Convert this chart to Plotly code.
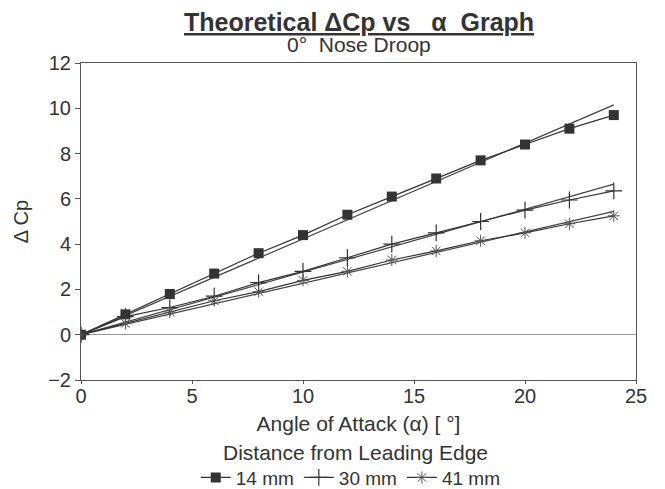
import plotly.graph_objects as go

alpha = [0, 2, 4, 6, 8, 10, 12, 14, 16, 18, 20, 22, 24]
cp_14mm = [0, 0.9, 1.8, 2.7, 3.6, 4.4, 5.3, 6.1, 6.9, 7.7, 8.4, 9.1, 9.7]
cp_30mm = [0, 0.8, 1.2, 1.7, 2.3, 2.8, 3.4, 4.0, 4.5, 5.0, 5.5, 5.95, 6.35]
cp_41mm = [0, 0.5, 1.0, 1.5, 1.9, 2.4, 2.8, 3.3, 3.7, 4.15, 4.5, 4.9, 5.25]

theory_x = [0, 24]
theory_14mm = [0, 10.15]
theory_30mm = [0, 6.65]
theory_41mm = [0, 5.45]

labels = ["14 mm", "30 mm", "41 mm"]
FONT = "Liberation Sans, Arial, sans-serif"
INK = "#333333"

fig = go.Figure()
for ty in [theory_14mm, theory_30mm, theory_41mm]:
    fig.add_trace(go.Scatter(x=theory_x, y=ty, mode="lines", showlegend=False,
                             line=dict(color="#444", width=1.2), hoverinfo="skip"))

sym = [dict(symbol="square", size=10, color="#333"),
       dict(symbol="cross-thin", size=12, color="#333", line=dict(width=1.2, color="#333")),
       dict(symbol="asterisk", size=10, color="#555", line=dict(width=1, color="#555"))]
for lab, yv, m in zip(labels, [cp_14mm, cp_30mm, cp_41mm], sym):
    fig.add_trace(go.Scatter(x=alpha, y=yv, mode="lines+markers", name=lab,
                             line=dict(color="#333", width=1.2), marker=m))

fig.update_layout(
    width=665, height=489,
    margin=dict(l=81, r=29, t=63, b=109, autoexpand=False),
    paper_bgcolor="white", plot_bgcolor="white",
    font=dict(family=FONT, color=INK, size=19),
    showlegend=True,
    legend=dict(orientation="h", x=0.486, xanchor="center", y=-0.248, yanchor="top",
                font=dict(size=19, color=INK), borderwidth=0,
                itemwidth=30, tracegroupgap=0),
    xaxis=dict(range=[0, 25], tickvals=[0, 5, 10, 15, 20, 25], showgrid=False,
               zeroline=False, showline=True, linecolor="#555", linewidth=1, mirror=True,
               ticks="outside", ticklen=3, tickcolor="#555", ticklabelstandoff=-5,
               tickfont=dict(size=20, color=INK),
               title=dict(text="Angle of Attack (α) [ °]", font=dict(size=21, color=INK), standoff=10)),
    yaxis=dict(range=[-2, 12], tickvals=[-2, 0, 2, 4, 6, 8, 10, 12], showgrid=False,
               zeroline=True, zerolinecolor="#999", zerolinewidth=1,
               showline=True, linecolor="#555", linewidth=1, mirror=True,
               ticks="outside", ticklen=5, tickcolor="#555",
               tickfont=dict(size=20, color=INK),
               title=dict(text="Δ Cp", font=dict(size=20, color=INK), standoff=14)),
)
fig.add_annotation(text="<b><u>Theoretical ΔCp vs   α  Graph</u></b>", xref="paper", yref="paper",
                   x=0.5, y=1.0 + 41 / 317, xanchor="center", yanchor="middle", showarrow=False,
                   font=dict(size=25, color=INK))
fig.add_annotation(text="0°  Nose Droop", xref="paper", yref="paper",
                   x=0.5, y=1.0 + 18 / 317, xanchor="center", yanchor="middle", showarrow=False,
                   font=dict(size=21, color=INK))
fig.add_annotation(text="Distance from Leading Edge", xref="paper", yref="paper",
                   x=0.494, y=-72 / 317, xanchor="center", yanchor="middle", showarrow=False,
                   font=dict(size=21, color=INK))
fig.write_html("out.html")
